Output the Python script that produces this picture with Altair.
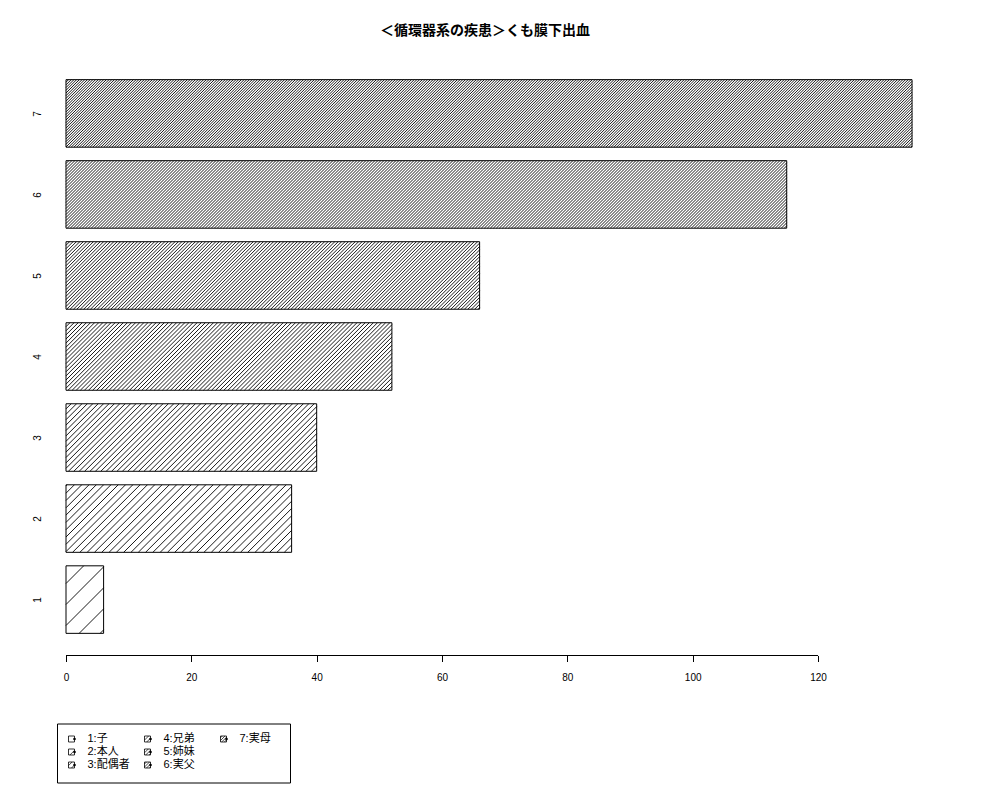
import json
import math
import altair as alt
import pandas as pd

# ---------------- data ----------------
TITLE = "＜循環器系の疾患＞くも膜下出血"
categories = ["1", "2", "3", "4", "5", "6", "7"]
values = [6, 36, 40, 52, 66, 115, 135]
legend_labels = ["1:子", "2:本人", "3:配偶者", "4:兄弟", "5:姉妹", "6:実父", "7:実母"]
x_ticks = [0, 20, 40, 60, 80, 100, 120]

# ---------------- style / layout ----------------
hatch_px = [21, 7.3, 5.4, 4.1, 3.4, 3.0, 2.7]   # horizontal spacing of hatch lines (px)
FONT = "Liberation Sans, Noto Sans CJK JP"
TFONT = "Noto Sans CJK JP"
W, H = 890, 598
KX = 6.267                      # px per x unit
XLO = -9 / KX
XHI = XLO + W / KX
YLO, YHI = -0.128, 8.728
KY = H / (YHI - YLO)
BAR_SPACE, BAR_W = 0.2, 1.0

LW, LH = 233, 59
PXC, PXR = 76.0, 13.0
LXLO = -14.5 / PXC
LXHI = LXLO + LW / PXC
LYLO = -15.5 / PXR
LYHI = LYLO + LH / PXR


def hatch(X0, X1, Yb, Yt, s):
    """45-degree hatch segments inside a pixel rectangle (y pointing up)."""
    segs = []
    cmin, cmax = Yb - X1, Yt - X0
    k = math.ceil(cmin / s)
    while k * s < cmax:
        c = k * s
        xa = max(X0, Yb - c)
        xb = min(X1, Yt - c)
        if xb - xa > 0.3:
            segs.append((xa, xa + c, xb, xb + c))
        k += 1
    return segs


# ---------------- main chart tables ----------------
y0s = [BAR_SPACE + i * (BAR_SPACE + BAR_W) for i in range(len(categories))]
bars_df = pd.DataFrame({
    "cat": categories,
    "value": values,
    "x0": [0] * len(values),
    "y0": y0s,
    "y1": [y + BAR_W for y in y0s],
})
centers = [y + BAR_W / 2 for y in y0s]

rows = []
for i, v in enumerate(values):
    X0 = (0 - XLO) * KX
    X1 = (v - XLO) * KX
    Yb = (y0s[i] - YLO) * KY
    Yt = (y0s[i] + BAR_W - YLO) * KY
    for (xa, ya, xb, yb) in hatch(X0, X1, Yb, Yt, hatch_px[i]):
        rows.append({
            "xa": XLO + xa / KX, "ya": YLO + ya / KY,
            "xb": XLO + xb / KX, "yb": YLO + yb / KY,
        })
hatch_df = pd.DataFrame(rows)

xscale = alt.Scale(domain=[XLO, XHI], nice=False, zero=False)
yscale = alt.Scale(domain=[YLO, YHI], nice=False, zero=False)

label_expr = json.dumps(categories) + "[round((datum.value - %g) / %g)]" % (
    centers[0], BAR_SPACE + BAR_W)

bars = alt.Chart(bars_df).mark_rect(fill="white", stroke="black", strokeWidth=1).encode(
    x=alt.X("x0:Q", scale=xscale, title=None,
            axis=alt.Axis(values=x_ticks, domain=False, grid=False, ticks=True,
                          tickColor="black", tickSize=6, tickWidth=1,
                          labelFont=FONT, labelFontSize=10, labelColor="black",
                          labelPadding=11, format="d", labelFlush=False,
                          minExtent=28, maxExtent=28)),
    x2="value:Q",
    y=alt.Y("y0:Q", scale=yscale, title=None,
            axis=alt.Axis(values=centers, labelExpr=label_expr, domain=False,
                          grid=False, ticks=False, tickSize=0, labelAngle=-90,
                          labelAlign="center", labelBaseline="bottom",
                          labelFont=FONT, labelFontSize=10, labelColor="black",
                          labelPadding=15, minExtent=30, maxExtent=30)),
    y2="y1:Q",
)

hatch_layer = alt.Chart(hatch_df).mark_rule(color="black", strokeWidth=0.9).encode(
    x=alt.X("xa:Q", scale=xscale, title=None),
    x2="xb:Q",
    y=alt.Y("ya:Q", scale=yscale, title=None),
    y2="yb:Q",
)

axis_df = pd.DataFrame({"a": [min(x_ticks)], "b": [max(x_ticks)], "yy": [YLO]})
axis_line = alt.Chart(axis_df).mark_rule(color="black", strokeWidth=1).encode(
    x=alt.X("a:Q", scale=xscale, title=None),
    x2="b:Q",
    y=alt.Y("yy:Q", scale=yscale, title=None),
)

main = alt.layer(bars, hatch_layer, axis_line).properties(
    width=W, height=H,
    title=alt.TitleParams(TITLE, font=TFONT, fontSize=14, fontWeight="bold",
                          anchor="middle", dx=-17, offset=20, color="black"),
)

# ---------------- legend ----------------
leg_rows, leg_hatch = [], []
hs = 3.0  # half side of symbol, px
for i, lab in enumerate(legend_labels):
    col, row = i // 3, i % 3
    leg_rows.append({
        "label": lab, "col": col, "row": row,
        "sx0": col - hs / PXC, "sx1": col + hs / PXC,
        "sy0": row - hs / PXR, "sy1": row + hs / PXR,
        "dotx": col + hs / PXC,
    })
    X0 = (col - LXLO) * PXC - hs
    X1 = X0 + 2 * hs
    Yc = (LYHI - row) * PXR
    for (xa, ya, xb, yb) in hatch(X0, X1, Yc - hs, Yc + hs, hatch_px[i]):
        leg_hatch.append({
            "xa": LXLO + xa / PXC, "ya": LYHI - ya / PXR,
            "xb": LXLO + xb / PXC, "yb": LYHI - yb / PXR,
        })
leg_df = pd.DataFrame(leg_rows)
leg_hatch_df = pd.DataFrame(leg_hatch)

lx = alt.Scale(domain=[LXLO, LXHI], nice=False, zero=False)
ly = alt.Scale(domain=[LYLO, LYHI], nice=False, zero=False, reverse=True)

leg_box = alt.Chart(leg_df).mark_rect(fill="white", stroke="black", strokeWidth=0.8).encode(
    x=alt.X("sx0:Q", scale=lx, axis=None), x2="sx1:Q",
    y=alt.Y("sy0:Q", scale=ly, axis=None), y2="sy1:Q",
)
leg_h = alt.Chart(leg_hatch_df).mark_rule(color="black", strokeWidth=0.7).encode(
    x=alt.X("xa:Q", scale=lx, axis=None), x2="xb:Q",
    y=alt.Y("ya:Q", scale=ly, axis=None), y2="yb:Q",
)
leg_dot = alt.Chart(leg_df).mark_circle(color="black", opacity=1, size=7).encode(
    x=alt.X("dotx:Q", scale=lx, axis=None),
    y=alt.Y("row:Q", scale=ly, axis=None),
)
leg_text = alt.Chart(leg_df).mark_text(
    align="left", baseline="middle", dx=16, font=FONT, fontSize=11, color="black"
).encode(
    x=alt.X("col:Q", scale=lx, axis=None),
    y=alt.Y("row:Q", scale=ly, axis=None),
    text="label:N",
)

legend = alt.layer(leg_box, leg_h, leg_dot, leg_text).properties(
    width=LW, height=LH,
    view=alt.ViewBackground(stroke="black", strokeWidth=1, strokeOpacity=1),
)

chart = alt.vconcat(main, legend, spacing=39).properties(
    padding={"left": 19, "top": 15.5, "right": 5, "bottom": 5},
    background="white",
).configure_view(strokeOpacity=0)

chart.save("out.html", embed_options={"renderer": "svg", "actions": False})
